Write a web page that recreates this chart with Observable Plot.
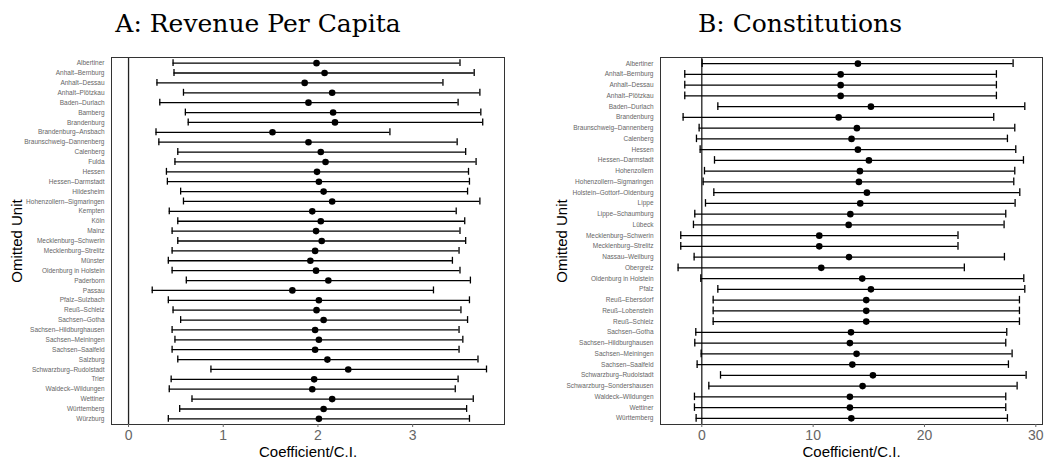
<!DOCTYPE html>
<html>
<head>
<meta charset="utf-8">
<script src="https://cdn.jsdelivr.net/npm/d3@7"></script>
<script src="https://cdn.jsdelivr.net/npm/@observablehq/plot@0.6"></script>
<style>
  html, body { margin: 0; padding: 0; background: #fff; }
  #wrap { position: relative; width: 1051px; height: 458px; overflow: hidden; font-family: "Liberation Sans", Arial, sans-serif; }
  .title { position: absolute; top: 9px; width: 400px; text-align: center; font-family: "DejaVu Serif", "Liberation Serif", serif; font-size: 25px; color: #000; line-height: 30px; }
  .panel { position: absolute; top: 50px; }
  .panel svg { overflow: visible; }
  [aria-label="x-axis label"], [aria-label="y-axis label"] { fill: #000; font-size: 15px; }
</style>
</head>
<body>
<div id="wrap">
  <div class="title" style="left:58px">A: Revenue Per Capita</div>
  <div class="title" style="left:600px">B: Constitutions</div>
  <div class="panel" id="pa" style="left:0px"></div>
  <div class="panel" id="pb" style="left:520px"></div>
</div>
<script>
// ---- Panel A: Revenue Per Capita ----
const unitsA = ["Albertiner","Anhalt–Bernburg","Anhalt–Dessau","Anhalt–Plötzkau","Baden–Durlach","Bamberg","Brandenburg","Brandenburg–Ansbach","Braunschweig–Dannenberg","Calenberg","Fulda","Hessen","Hessen–Darmstadt","Hildesheim","Hohenzollern–Sigmaringen","Kempten","Köln","Mainz","Mecklenburg–Schwerin","Mecklenburg–Strelitz","Münster","Oldenburg in Holstein","Paderborn","Passau","Pfalz–Sulzbach","Reuß–Schleiz","Sachsen–Gotha","Sachsen–Hildburghausen","Sachsen–Meiningen","Sachsen–Saalfeld","Salzburg","Schwarzburg–Rudolstadt","Trier","Waldeck–Wildungen","Wettiner","Württemberg","Würzburg"];
const estA = [1.985,2.07,1.86,2.15,1.90,2.16,2.18,1.52,1.90,2.03,2.08,1.99,2.01,2.06,2.15,1.94,2.03,1.98,2.04,1.97,1.92,1.98,2.11,1.73,2.01,1.985,2.06,1.97,2.01,1.97,2.10,2.32,1.96,1.94,2.15,2.06,2.01];
const loA = [0.47,0.48,0.30,0.58,0.33,0.60,0.63,0.29,0.32,0.52,0.49,0.40,0.41,0.55,0.58,0.43,0.52,0.46,0.52,0.46,0.42,0.46,0.61,0.25,0.42,0.47,0.55,0.46,0.49,0.46,0.52,0.87,0.45,0.43,0.67,0.54,0.42];
const hiA = [3.50,3.65,3.32,3.71,3.48,3.72,3.74,2.76,3.47,3.56,3.67,3.59,3.60,3.58,3.71,3.46,3.55,3.50,3.56,3.49,3.42,3.50,3.61,3.22,3.60,3.51,3.58,3.49,3.53,3.49,3.69,3.78,3.48,3.45,3.64,3.57,3.60];
const ticksA = [0,1,2,3];

// ---- Panel B: Constitutions ----
const unitsB = ["Albertiner","Anhalt–Bernburg","Anhalt–Dessau","Anhalt–Plötzkau","Baden–Durlach","Brandenburg","Braunschweig–Dannenberg","Calenberg","Hessen","Hessen–Darmstadt","Hohenzollern","Hohenzollern–Sigmaringen","Holstein–Gottorf–Oldenburg","Lippe","Lippe–Schaumburg","Lübeck","Mecklenburg–Schwerin","Mecklenburg–Strelitz","Nassau–Weilburg","Obergreiz","Oldenburg in Holstein","Pfalz","Reuß–Ebersdorf","Reuß–Lobenstein","Reuß–Schleiz","Sachsen–Gotha","Sachsen–Hildburghausen","Sachsen–Meiningen","Sachsen–Saalfeld","Schwarzburg–Rudolstadt","Schwarzburg–Sondershausen","Waldeck–Wildungen","Wettiner","Württemberg"];
const estB = [14.02,12.47,12.47,12.47,15.19,12.29,13.93,13.45,14.02,15.01,14.20,14.11,14.83,14.23,13.34,13.19,10.55,10.55,13.22,10.73,14.41,15.19,14.77,14.77,14.77,13.40,13.30,13.90,13.52,15.37,14.44,13.30,13.30,13.43];
const loB = [0.03,-1.53,-1.53,-1.53,1.44,-1.68,-0.24,-0.48,-0.15,1.14,0.24,0.12,1.08,0.33,-0.63,-0.75,-1.89,-1.89,-0.69,-2.13,-0.09,1.44,1.02,1.02,1.02,-0.54,-0.63,-0.06,-0.42,1.68,0.63,-0.66,-0.66,-0.51];
const hiB = [27.96,26.46,26.46,26.46,29.01,26.22,28.11,27.45,28.20,28.89,28.11,28.02,28.56,28.14,27.30,27.15,23.01,23.01,27.18,23.58,28.92,29.01,28.53,28.53,28.53,27.39,27.30,27.87,27.54,29.13,28.32,27.30,27.30,27.45];
const ticksB = [0,10,20,30];

function table(units, est, lo, hi) {
  return units.map((u, i) => ({unit: u, est: est[i], lo: lo[i], hi: hi[i]}));
}

function panel(data, units, xdomain, ticks, width, marginLeft, marginRight, labelOffsetY) {
  return Plot.plot({
    width, height: 408,
    marginLeft, marginRight, marginTop: 7, marginBottom: 34,
    style: {fontFamily: "'Liberation Sans', Arial, sans-serif", background: "transparent"},
    x: {domain: xdomain},
    y: {type: "band", domain: units, paddingInner: 0.3, paddingOuter: 0.22, round: false},
    marks: [
      Plot.ruleX([0], {stroke: "#222", strokeWidth: 1.3}),
      Plot.ruleY(data, {y: "unit", x1: "lo", x2: "hi", stroke: "#000", strokeWidth: 1.3}),
      Plot.tickX(data, {y: "unit", x: "lo", stroke: "#000", strokeWidth: 1.3}),
      Plot.tickX(data, {y: "unit", x: "hi", stroke: "#000", strokeWidth: 1.3}),
      Plot.dot(data, {y: "unit", x: "est", r: 3.3, fill: "#000", stroke: "none"}),
      Plot.frame({stroke: "#333", strokeWidth: 1}),
      Plot.axisX({ticks, tickFormat: d3.format("d"), tickSize: 3, tickPadding: 3, fontSize: 14, color: "#666",
        label: "Coefficient/C.I.", labelAnchor: "center", labelArrow: "none", labelOffset: 32}),
      Plot.axisY({tickSize: 0, tickPadding: 7, fontSize: 6.5, color: "#666",
        label: "Omitted Unit", labelAnchor: "center", labelArrow: "none", labelOffset: labelOffsetY})
    ]
  });
}

document.getElementById("pa").append(
  panel(table(unitsA, estA, loA, hiA), unitsA, [-0.18, 3.97], ticksA, 520, 111, 16, 100));
document.getElementById("pb").append(
  panel(table(unitsB, estB, loB, hiB), unitsB, [-3.71, 30.6], ticksB, 531, 140, 9, 104));
</script>
</body>
</html>
